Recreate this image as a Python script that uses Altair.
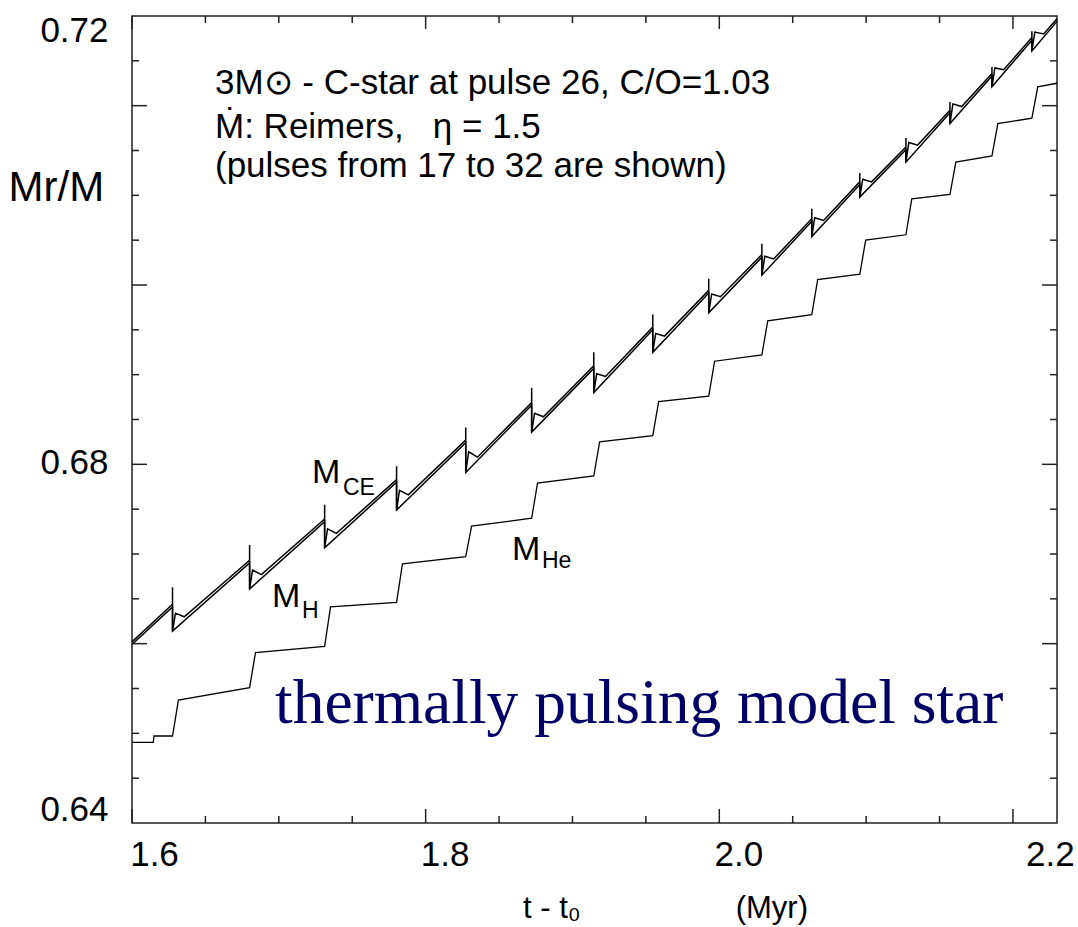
import altair as alt
import pandas as pd

FONT = "Liberation Sans"
SERIF = "Liberation Serif"

# ---------------- data ----------------
# pulse times (t - t0, Myr) for pulses 17..32
pulse_t = [1.6276, 1.6801, 1.7312, 1.7802, 1.8273, 1.8722, 1.9145, 1.9547,
           1.9928, 2.0290, 2.0630, 2.0957, 2.1271, 2.1571, 2.1857, 2.2129]

# M_H : value just before each pulse and after the dredge-up dip
h_start, h_end = 0.6599, 0.7294
h_pre = [0.6641, 0.6690, 0.6736, 0.6780, 0.6824, 0.6866, 0.6907, 0.6950,
         0.6991, 0.7031, 0.7071, 0.7112, 0.7151, 0.7192, 0.7233, 0.7273]
h_dip = [0.6614, 0.6661, 0.6707, 0.6749, 0.6791, 0.6836, 0.6880, 0.6925,
         0.6969, 0.7011, 0.7054, 0.7098, 0.7137, 0.7180, 0.7221, 0.7261]

# M_CE : pre-pulse value, spike top, hook top and hook bottom
ce_start, ce_end = 0.6602, 0.7297
ce_pre = [0.6644, 0.6693, 0.6739, 0.6783, 0.6827, 0.6869, 0.6910, 0.6953,
          0.6994, 0.7034, 0.7074, 0.7115, 0.7154, 0.7195, 0.7236, 0.7276]
ce_spike = [0.6663, 0.6710, 0.6755, 0.6798, 0.6841, 0.6885, 0.6925, 0.6967,
            0.7007, 0.7046, 0.7085, 0.7125, 0.7164, 0.7204, 0.7243, 0.7283]
ce_hook = [0.6634, 0.6682, 0.6728, 0.6771, 0.6814, 0.6857, 0.6901, 0.6946,
           0.6990, 0.7032, 0.7075, 0.7118, 0.7159, 0.7202, 0.7242, 0.7282]
ce_hook_low = [0.6630, 0.6677, 0.6723, 0.6766, 0.6808, 0.6853, 0.6898, 0.6943,
               0.6987, 0.7029, 0.7072, 0.7115, 0.7156, 0.7199, 0.7240, 0.7280]
hook_dt = [0.002, 0.008]

# M_He : staircase
he_lead_t = [1.6000, 1.6145, 1.6150]
he_lead_v = [0.6490, 0.6490, 0.6497]
he_pre = [0.6497, 0.6551, 0.6597, 0.6646, 0.6697, 0.6740, 0.6787, 0.6832,
          0.6876, 0.6922, 0.6967, 0.7012, 0.7056, 0.7101, 0.7144, 0.7186]
he_post = [0.6537, 0.6590, 0.6641, 0.6689, 0.6731, 0.6779, 0.6825, 0.6870,
           0.6915, 0.6960, 0.7006, 0.7050, 0.7096, 0.7137, 0.7180, 0.7221]
he_rise_dt = 0.004
he_end = 0.7225
t_end = 2.23

# axis ticks / labels
x_label_vals = [1.6, 1.8, 2.0, 2.2]
x_major = [1.6, 1.8, 2.0, 2.2]
x_minor = [1.65, 1.70, 1.75, 1.85, 1.90, 1.95, 2.05, 2.10, 2.15]
y_label_vals = [0.64, 0.68, 0.72]
y_major = [0.66, 0.68, 0.70, 0.72]
y_minor = [0.645, 0.65, 0.655, 0.665, 0.67, 0.675, 0.685, 0.69, 0.695,
           0.705, 0.71, 0.715, 0.725]

# ---------------- build line table ----------------
rows = []


def add(series, t, v):
    rows.append({"series": series, "t": t, "v": v, "i": len(rows)})


add("MH", 1.6, h_start)
for k in range(len(pulse_t)):
    add("MH", pulse_t[k], h_pre[k])
    add("MH", pulse_t[k], h_dip[k])
add("MH", t_end, h_end)

add("MCE", 1.6, ce_start)
for k in range(len(pulse_t)):
    add("MCE", pulse_t[k], ce_pre[k])
    add("MCE", pulse_t[k], ce_spike[k])
    add("MCE", pulse_t[k], h_dip[k])
    add("MCE", pulse_t[k] + hook_dt[0], ce_hook[k])
    add("MCE", pulse_t[k] + hook_dt[1], ce_hook_low[k])
add("MCE", t_end, ce_end)

for t, v in zip(he_lead_t, he_lead_v):
    add("MHe", t, v)
for k in range(len(pulse_t)):
    add("MHe", pulse_t[k], he_pre[k])
    add("MHe", pulse_t[k] + he_rise_dt, he_post[k])
add("MHe", t_end, he_end)

lines_df = pd.DataFrame(rows)
band_df = lines_df[lines_df["series"] != "MHe"]
he_df = lines_df[lines_df["series"] == "MHe"]

# ---------------- chart ----------------
W, H = 925, 807

xs = alt.Scale(domain=[1.6, 2.23], nice=False, zero=False)
ys = alt.Scale(domain=[0.64, 0.73], nice=False, zero=False)

x_axis = alt.Axis(
    values=x_label_vals, format=".1f", grid=False, ticks=False, tickSize=0,
    domain=False, labelFont=FONT, labelFontSize=35, labelColor="black",
    labelBaseline="alphabetic", labelPadding=42, labelFlush=False,
    labelOverlap=False,
    labelOffset={"condition": [{"test": "datum.value < 1.65", "value": 22},
                               {"test": "datum.value > 2.15", "value": 37}],
                 "value": 19},
    title="t - t\u2080\u2003\u2003\u2003\u2003\u2003(Myr)",
    titleFont=FONT, titleFontSize=31, titleFontWeight="normal",
    titleColor="black", titleX=533, titleY=94, titleAlign="center",
    titleBaseline="alphabetic", titleAngle=0,
)

y_axis = alt.Axis(
    values=y_label_vals, format=".2f", grid=False, ticks=False, tickSize=0,
    domain=False, labelFont=FONT, labelFontSize=35, labelColor="black",
    labelBaseline="alphabetic", labelAlign="right", labelPadding=24,
    labelFlush=False, labelOverlap=False,
    labelOffset={"condition": [{"test": "datum.value > 0.71", "value": -64},
                               {"test": "datum.value < 0.65", "value": -3}],
                 "value": 9},
    title="Mr/M", titleFont=FONT, titleFontSize=42, titleFontWeight="normal",
    titleColor="black", titleAngle=0, titleX=-124, titleY=184,
    titleAlign="left", titleBaseline="alphabetic",
)

x_enc = alt.X("t:Q", scale=xs, axis=x_axis)
y_enc = alt.Y("v:Q", scale=ys, axis=y_axis)

band = alt.Chart(band_df).mark_line(color="black", strokeWidth=1.5).encode(
    x=x_enc, y=y_enc, detail="series:N", order="i:Q"
)
he_line = alt.Chart(he_df).mark_line(color="black", strokeWidth=1.3).encode(
    x=x_enc, y=y_enc, detail="series:N", order="i:Q"
)


def rule(values, field, **enc):
    df = pd.DataFrame({field: values})
    return alt.Chart(df).mark_rule(color="#222222", strokeWidth=1.5).encode(**enc)


tick_layers = [
    rule(x_major, "t", x=x_enc, y=alt.value(H), y2=alt.value(H - 14)),
    rule(x_minor, "t", x=x_enc, y=alt.value(H), y2=alt.value(H - 7)),
    rule(x_major, "t", x=x_enc, y=alt.value(0), y2=alt.value(13)),
    rule(x_minor, "t", x=x_enc, y=alt.value(0), y2=alt.value(7)),
    rule(y_major, "v", y=y_enc, x=alt.value(0), x2=alt.value(15)),
    rule(y_minor, "v", y=y_enc, x=alt.value(0), x2=alt.value(7)),
    rule(y_major, "v", y=y_enc, x=alt.value(W), x2=alt.value(W - 15)),
    rule(y_minor, "v", y=y_enc, x=alt.value(W), x2=alt.value(W - 7)),
]


def label(text, px, py, size, font=FONT, color="black"):
    df = pd.DataFrame({"label": [text]})
    return alt.Chart(df).mark_text(
        align="left", baseline="alphabetic", font=font, fontSize=size,
        color=color
    ).encode(x=alt.value(px), y=alt.value(py), text="label:N")


annot = [
    label("3M\u2299 - C-star at pulse 26, C/O=1.03", 83, 78, 35),
    label("\u1e40: Reimers,\u00a0\u00a0\u00a0\u03b7 = 1.5", 83, 122, 35),
    label("(pulses from 17 to 32 are shown)", 83, 161, 35),
    label("M", 180, 467, 34),
    label("CE", 211, 479, 23),
    label("M", 140, 591, 34),
    label("H", 170, 602, 23),
    label("M", 380, 544, 34),
    label("He", 410, 552, 23),
    label("thermally pulsing model star", 143, 707, 63.5, font=SERIF,
          color="#000066"),
]

chart = alt.layer(band, he_line, *tick_layers, *annot).properties(
    width=W, height=H,
    autosize=alt.AutoSizeParams(type="none"),
    padding={"left": 132, "top": 16, "right": 21, "bottom": 104},
    background="white",
).configure_view(stroke="#222222", strokeWidth=1.5)

chart.save("out.html", embed_options={"renderer": "svg", "actions": False})
